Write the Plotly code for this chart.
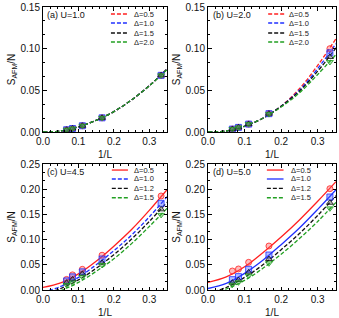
import plotly.graph_objects as go

# ---------------- data ----------------
INV_L = [1/3, 1/6, 1/9, 1/12, 1/15]
FIT_X = [0.0, 0.05, 0.10, 0.15, 0.20, 0.25, 0.30, 0.35]

DELTA_AB = ["Δ=0.5", "Δ=1.0", "Δ=1.5", "Δ=2.0"]
DELTA_CD = ["Δ=0.5", "Δ=1.0", "Δ=1.2", "Δ=1.5"]

# panel (a) U=1.0
A_PTS_05 = [0.068, 0.017, 0.0075, 0.0042, 0.0027]
A_PTS_10 = [0.068, 0.017, 0.0075, 0.0042, 0.0027]
A_PTS_15 = [0.068, 0.017, 0.0075, 0.0042, 0.0027]
A_PTS_20 = [0.068, 0.017, 0.0075, 0.0042, 0.0027]
A_FIT_05 = [0.0, 0.0012, 0.0062, 0.0140, 0.0245, 0.0385, 0.0555, 0.0755]
A_FIT_10 = [0.0, 0.0012, 0.0062, 0.0140, 0.0245, 0.0385, 0.0555, 0.0755]
A_FIT_15 = [0.0, 0.0012, 0.0062, 0.0140, 0.0245, 0.0385, 0.0555, 0.0755]
A_FIT_20 = [0.0, 0.0012, 0.0062, 0.0140, 0.0245, 0.0385, 0.0553, 0.0750]

# panel (b) U=2.0
B_PTS_05 = [0.100, 0.022, 0.0095, 0.0055, 0.0035]
B_PTS_10 = [0.095, 0.022, 0.0095, 0.0055, 0.0035]
B_PTS_15 = [0.090, 0.022, 0.0095, 0.0055, 0.0035]
B_PTS_20 = [0.084, 0.0215, 0.0095, 0.0055, 0.0035]
B_FIT_05 = [0.0, 0.0012, 0.0068, 0.0165, 0.031, 0.052, 0.080, 0.112]
B_FIT_10 = [0.0, 0.0012, 0.0068, 0.0165, 0.031, 0.050, 0.076, 0.106]
B_FIT_15 = [0.0, 0.0012, 0.0068, 0.0165, 0.031, 0.049, 0.073, 0.101]
B_FIT_20 = [0.0, 0.0012, 0.0068, 0.0165, 0.030, 0.047, 0.069, 0.093]

# panel (c) U=4.5
C_PTS_05 = [0.1865, 0.069, 0.041, 0.030, 0.021]
C_PTS_10 = [0.172, 0.0615, 0.036, 0.026, 0.018]
C_PTS_12 = [0.160, 0.054, 0.032, 0.021, 0.0145]
C_PTS_15 = [0.149, 0.0496, 0.026, 0.015, 0.010]
C_FIT_05 = [0.005, 0.014, 0.032, 0.057, 0.087, 0.120, 0.158, 0.199]
C_FIT_10 = [-0.004, 0.007, 0.025, 0.050, 0.078, 0.109, 0.145, 0.185]
C_FIT_12 = [-0.008, 0.003, 0.020, 0.043, 0.070, 0.101, 0.136, 0.174]
C_FIT_15 = [-0.012, -0.001, 0.015, 0.037, 0.062, 0.092, 0.126, 0.162]

# panel (d) U=5.0
D_PTS_05 = [0.201, 0.0873, 0.0549, 0.0417, 0.0377]
D_PTS_10 = [0.1845, 0.0694, 0.041, 0.0265, 0.0205]
D_PTS_12 = [0.173, 0.0615, 0.035, 0.0198, 0.0146]
D_PTS_15 = [0.162, 0.053, 0.0284, 0.0152, 0.0106]
D_FIT_05 = [0.015, 0.026, 0.046, 0.074, 0.105, 0.139, 0.176, 0.215]
D_FIT_10 = [0.003, 0.013, 0.033, 0.059, 0.090, 0.123, 0.160, 0.199]
D_FIT_12 = [-0.006, 0.005, 0.025, 0.050, 0.080, 0.112, 0.148, 0.187]
D_FIT_15 = [-0.010, 0.002, 0.019, 0.043, 0.071, 0.102, 0.136, 0.174]

X_TICKS = [0.0, 0.1, 0.2, 0.3]
X_TICK_TEXT = ["0.0", "0.1", "0.2", "0.3"]
Y_TICKS_AB = [0.00, 0.05, 0.10, 0.15]
Y_TICK_TEXT_AB = ["0.00", "0.05", "0.10", "0.15"]
Y_TICKS_CD = [0.00, 0.05, 0.10, 0.15, 0.20, 0.25]
Y_TICK_TEXT_CD = ["0.00", "0.05", "0.10", "0.15", "0.20", "0.25"]

PANEL_LABELS = ["(a) U=1.0", "(b) U=2.0", "(c) U=4.5", "(d) U=5.0"]

# ---------------- styles ----------------
COLORS = ["#ff2020", "#2030ff", "#111111", "#22a022"]
FILLS = ["rgba(255,90,90,0.40)", "rgba(70,90,255,0.40)",
         "rgba(70,70,70,0.40)", "rgba(50,170,50,0.40)"]
SYMBOLS = ["circle", "square", "triangle-up", "triangle-down"]
DASH = "4px,2px"
FONT = "Liberation Sans, Arial, sans-serif"

panels = [
    dict(pts=[A_PTS_05, A_PTS_10, A_PTS_15, A_PTS_20],
         fit=[A_FIT_05, A_FIT_10, A_FIT_15, A_FIT_20],
         dash=[DASH, DASH, DASH, DASH], names=DELTA_AB),
    dict(pts=[B_PTS_05, B_PTS_10, B_PTS_15, B_PTS_20],
         fit=[B_FIT_05, B_FIT_10, B_FIT_15, B_FIT_20],
         dash=[DASH, DASH, DASH, DASH], names=DELTA_AB),
    dict(pts=[C_PTS_05, C_PTS_10, C_PTS_12, C_PTS_15],
         fit=[C_FIT_05, C_FIT_10, C_FIT_12, C_FIT_15],
         dash=["solid", DASH, DASH, DASH], names=DELTA_CD),
    dict(pts=[D_PTS_05, D_PTS_10, D_PTS_12, D_PTS_15],
         fit=[D_FIT_05, D_FIT_10, D_FIT_12, D_FIT_15],
         dash=["solid", "solid", DASH, DASH], names=DELTA_CD),
]

W, H = 339, 318
ML, MR, MT, MB = 28, 2, 5, 26
PW, PH = W - ML - MR, H - MT - MB
# pixel boxes of plot areas: (left, right, top, bottom)
boxes = [(43, 167, 7, 132), (208, 336, 7, 132), (43, 167, 164, 290), (208, 336, 164, 290)]
# legend placement in axis-domain coords: (line x0, line x1, text x)
leg_x = [(0.548, 0.685, 0.72), (0.47, 0.60, 0.62), (0.555, 0.685, 0.72), (0.46, 0.59, 0.63)]
leg_y = [[0.944, 0.872, 0.792, 0.72], [0.944, 0.872, 0.792, 0.72],
         [0.952, 0.881, 0.807, 0.732], [0.952, 0.881, 0.807, 0.732]]

fig = go.Figure()
shapes = []
annotations = []

for p, panel in enumerate(panels):
    ax = "" if p == 0 else str(p + 1)
    xref, yref = "x" + ax, "y" + ax
    for s in range(4):
        fig.add_trace(go.Scatter(
            x=FIT_X, y=panel["fit"][s], mode="lines", line_shape="spline",
            line=dict(color=COLORS[s], width=1.3, dash=panel["dash"][s]),
            xaxis=xref, yaxis=yref, showlegend=False, hoverinfo="skip"))
    for s in range(4):
        fig.add_trace(go.Scatter(
            x=INV_L, y=panel["pts"][s], mode="markers",
            marker=dict(symbol=SYMBOLS[s], size=6, color=FILLS[s],
                        line=dict(color=COLORS[s], width=0.8)),
            xaxis=xref, yaxis=yref, showlegend=False))
    # legend (drawn in axis-domain coordinates)
    for s in range(4):
        shapes.append(dict(type="line", xref=xref + " domain", yref=yref + " domain",
                           x0=leg_x[p][0], x1=leg_x[p][1], y0=leg_y[p][s], y1=leg_y[p][s],
                           line=dict(color=COLORS[s], width=1.3,
                                     dash="solid" if panel["dash"][s] == "solid" else DASH)))
        annotations.append(dict(xref=xref + " domain", yref=yref + " domain",
                                x=leg_x[p][2], y=leg_y[p][s], text=panel["names"][s],
                                showarrow=False, xanchor="left", yanchor="middle",
                                font=dict(size=7.5, color="#222", family=FONT)))
    annotations.append(dict(xref=xref + " domain", yref=yref + " domain",
                            x=0.02, y=0.94, text=PANEL_LABELS[p], showarrow=False,
                            xanchor="left", yanchor="middle",
                            font=dict(size=9, color="#111", family=FONT)))

axis_common = dict(showline=True, mirror="allticks", linecolor="black", linewidth=1,
                   ticks="inside", ticklen=3.5, tickwidth=0.8, tickcolor="black",
                   showgrid=False, zeroline=False, automargin=False,
                   tickfont=dict(size=10, family=FONT, color="#111"))

layout = dict(width=W, height=H, margin=dict(l=ML, r=MR, t=MT, b=MB, autoexpand=False),
              paper_bgcolor="white", plot_bgcolor="white",
              shapes=shapes, annotations=annotations, showlegend=False)

for p, (l, r, t, b) in enumerate(boxes):
    ax = "" if p == 0 else str(p + 1)
    top = p < 2
    xa = dict(axis_common)
    xa.update(domain=[(l - ML) / PW, (r - ML) / PW], range=[0, 0.35],
              tickvals=X_TICKS, ticktext=X_TICK_TEXT, anchor="y" + ax,
              minor=dict(ticks="inside", ticklen=2, tickwidth=0.6, tickcolor="black",
                         dtick=0.02, tick0=0),
              title=dict(text="1/L", font=dict(size=10, family=FONT, color="#111"), standoff=4))
    ya = dict(axis_common)
    ya.update(domain=[(H - MB - b) / PH, (H - MB - t) / PH],
              range=[0, 0.15] if top else [0, 0.25],
              tickvals=Y_TICKS_AB if top else Y_TICKS_CD,
              ticktext=Y_TICK_TEXT_AB if top else Y_TICK_TEXT_CD,
              anchor="x" + ax,
              minor=dict(ticks="inside", ticklen=2, tickwidth=0.6, tickcolor="black",
                         dtick=0.05 / 3, tick0=0),
              title=dict(text="S<sub>AFM</sub>/N", font=dict(size=10, family=FONT, color="#111"),
                         standoff=3))
    layout["xaxis" + ax] = xa
    layout["yaxis" + ax] = ya

fig.update_layout(**layout)
fig.write_html("out.html", config={"displayModeBar": False},
               post_script="document.body.style.margin='0';document.body.style.overflow='hidden';")
